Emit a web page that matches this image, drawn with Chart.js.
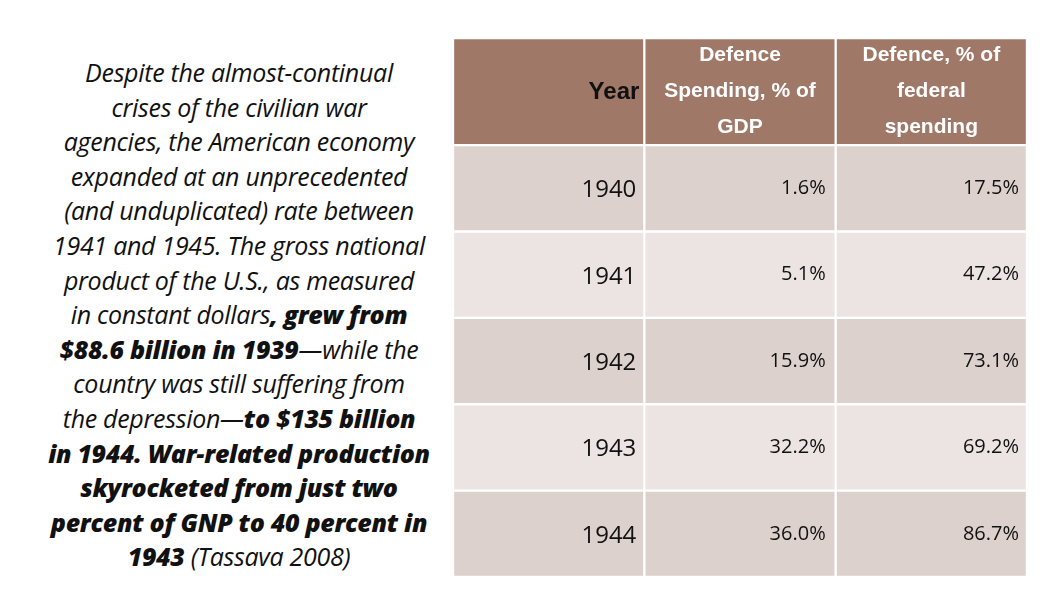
<!DOCTYPE html>
<html><head><meta charset="utf-8">
<script src="https://cdn.jsdelivr.net/npm/chart.js@4"></script>
<style>
body{margin:0;width:1053px;height:593px;background:#fff;position:relative;overflow:hidden;font-family:"Open Sans",sans-serif}
#txt{position:absolute;left:24px;top:55px;width:430px;text-align:center;font-style:italic;font-size:25px;line-height:34.6px;color:#111;letter-spacing:-0.3px}
#txt b{font-weight:800}
#c{position:absolute;left:453px;top:38px}
</style></head><body>
<div id="txt">Despite the almost-continual<br>crises of the civilian war<br>agencies, the American economy<br>expanded at an unprecedented<br>(and unduplicated) rate between<br>1941 and 1945. The gross national<br>product of the U.S., as measured<br>in constant dollars<b>, grew from<br>$88.6 billion in 1939</b>—while the<br>country was still suffering from<br>the depression—<b>to $135 billion<br>in 1944. War-related production<br>skyrocketed from just two<br>percent of GNP to 40 percent in<br>1943</b> (Tassava 2008)</div>
<canvas id="c" width="574" height="539"></canvas>
<script>
const columns = ["Year", "Defence Spending, % of GDP", "Defence, % of federal spending"];
const headerLines = [["Year"], ["Defence", "Spending, % of", "GDP"], ["Defence, % of", "federal", "spending"]];
const years = ["1940", "1941", "1942", "1943", "1944"];
const gdpShare = [1.6, 5.1, 15.9, 32.2, 36.0];
const federalShare = [17.5, 47.2, 73.1, 69.2, 86.7];

const headerH = 1.24;
const rowColors = ["#ddd1ce", "#ebe4e2"];
const datasets = [{
  label: "header",
  data: columns.map(() => [0, headerH]),
  backgroundColor: "#a07868"
}];
years.forEach((y, i) => {
  datasets.push({
    label: y,
    data: columns.map(() => [headerH + i, headerH + i + 1]),
    backgroundColor: rowColors[i % 2]
  });
});
datasets.forEach(d => Object.assign(d, {borderColor: "#fff", borderWidth: 1.5, borderSkipped: false, categoryPercentage: 1, barPercentage: 1}));

const textPlugin = {
  id: "cellText",
  afterDatasetsDraw(chart) {
    const ctx = chart.ctx, xs = chart.scales.x, ys = chart.scales.y;
    const half = (xs.getPixelForValue(1) - xs.getPixelForValue(0)) / 2;
    ctx.save();
    ctx.textBaseline = "middle";
    const hMid = ys.getPixelForValue(headerH / 2);
    ctx.font = "bold 24px 'Liberation Sans', sans-serif";
    ctx.fillStyle = "#111"; ctx.textAlign = "right";
    ctx.fillText(headerLines[0][0], xs.getPixelForValue(0) + half - 5, hMid + 1);
    ctx.font = "bold 21px 'Liberation Sans', sans-serif";
    ctx.fillStyle = "#fff"; ctx.textAlign = "center";
    [1, 2].forEach(c => {
      headerLines[c].forEach((t, k) => ctx.fillText(t, xs.getPixelForValue(c), hMid + (k - 1) * 36));
    });
    ctx.fillStyle = "#111"; ctx.textAlign = "right";
    years.forEach((y, i) => {
      const m = ys.getPixelForValue(headerH + i + 0.5);
      ctx.font = "24px 'Open Sans', sans-serif";
      ctx.fillText(y, xs.getPixelForValue(0) + half - 8, m + 2);
      ctx.font = "20px 'Open Sans', sans-serif";
      ctx.fillText(gdpShare[i].toFixed(1) + "%", xs.getPixelForValue(1) + half - 10, m);
      ctx.fillText(federalShare[i].toFixed(1) + "%", xs.getPixelForValue(2) + half - 8, m);
    });
    ctx.restore();
  }
};

new Chart(document.getElementById("c"), {
  type: "bar",
  data: {labels: columns, datasets},
  options: {
    responsive: false, animation: false, devicePixelRatio: 1,
    layout: {padding: 0},
    grouped: false,
    plugins: {legend: {display: false}, tooltip: {enabled: false}},
    scales: {
      x: {display: false},
      y: {display: false, reverse: true, min: 0, max: headerH + years.length}
    }
  },
  plugins: [textPlugin]
});
</script>
</body></html>
